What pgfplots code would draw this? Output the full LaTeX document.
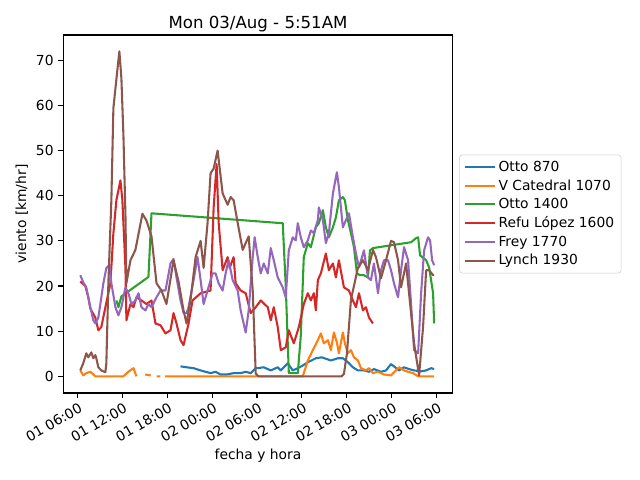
\documentclass[border=0pt]{standalone}
\usepackage{pgfplots}
\pgfplotsset{compat=1.18}
\usepackage{fontspec}
\setmainfont{DejaVu Sans}
\definecolor{c0}{HTML}{1F77B4}
\definecolor{c1}{HTML}{FF7F0E}
\definecolor{c2}{HTML}{2CA02C}
\definecolor{c3}{HTML}{D62728}
\definecolor{c4}{HTML}{9467BD}
\definecolor{c5}{HTML}{8C564B}
\begin{document}
\begin{tikzpicture}
\path[use as bounding box] (-0.633in,-0.87in) rectangle (5.767in,3.93in);
\begin{axis}[
  at={(0,0)}, anchor=south west,
  scale only axis, width=3.894in, height=3.58in,
  xmin=4.13, xmax=56.14, ymin=-3.7, ymax=75.6,
  axis line style={line width=0.8pt},
  tick align=outside, major tick length=3.5pt,
  every tick/.style={black, line width=0.8pt},
  xtick={6,12,18,24,30,36,42,48,54},
  xticklabels={01 06:00,01 12:00,01 18:00,02 00:00,02 06:00,02 12:00,02 18:00,03 00:00,03 06:00},
  ytick={0,10,20,30,40,50,60,70},
  xtick pos=bottom, ytick pos=left,
  /pgf/number format/assume math mode=true,
  tick label style={font=\fontsize{10}{12}\selectfont},
  xticklabel style={rotate=30, anchor=north east, inner sep=1pt, yshift=-2pt},
  xlabel={fecha y hora}, ylabel={viento [km/hr]},
  ylabel style={xshift=0pt, yshift=-1pt},
  label style={font=\fontsize{10}{12}\selectfont},
  title={Mon 03/Aug - 5:51AM},
  title style={font=\fontsize{12}{14}\selectfont, yshift=-7pt},
  unbounded coords=jump,
  every axis plot/.append style={line width=1.5pt, line join=round},
  legend style={at={(1,0.5)}, anchor=west, xshift=4.8pt, draw=black!20, rounded corners=2pt,
    font=\fontsize{10}{12}\selectfont, row sep=0.4pt, inner xsep=3pt, inner ysep=2.5pt},
  legend cell align=left,
  legend image code/.code={\draw[#1, line width=1.5pt] (0pt,0pt) -- (21.6pt,0pt);},
]
\addplot[c0] coordinates {
(19.79,2.2) (20.59,2) (21.53,1.8) (22.47,1.3) (23.13,1) (23.80,0.7) (24.47,1) (25.14,0.4) (25.95,0.4) (26.88,0.7) (27.82,0.7) (28.49,1) (29.16,0.7) (29.83,1.8) (30.10,1.8) (30.90,2) (31.84,1.3) (32.77,2) (33.18,1.3) (34.11,2.9) (34.78,1.3) (35.45,1.8) (36.12,2.4) (36.79,3.1) (37.86,4) (38.66,4.2) (39.87,3.5) (40.81,4) (41.47,4) (42.14,3.1) (42.81,2) (43.48,1.3) (44.29,1.3) (44.96,1) (45.62,1.6) (46.56,1) (47.23,1.3) (47.90,2.7) (48.30,2.2) (48.97,1.3) (49.64,2) (50.31,1.6) (50.98,1.3) (51.92,1.1) (52.59,1.3) (53.26,1.8) (53.66,1.6)
};
\addlegendentry{Otto 870}
\addplot[c1] coordinates {
(6.40,1.3) (6.80,0.2) (7.20,0.7) (7.74,1) (8.41,0) (12.16,0) (12.83,1) (13.50,1.8) (13.90,0) (14.0,nan)
(15.06,0.4) (15.81,0.2) (15.9,nan)
(16.6,0) (17.1,0) (17.3,nan)
(17.74,0) (36.12,0) (36.25,0.7) (36.79,3.5) (37.46,5.8) (38.13,8) (38.53,9.5) (38.93,7.3) (39.47,8) (39.87,5.8) (40.27,9.7) (40.67,7.5) (40.94,5.1) (41.47,9.7) (41.74,7.3) (42.14,5.1) (42.55,5.8) (42.95,4.2) (43.48,3.5) (43.89,1.8) (44.55,1.3) (44.96,1.8) (45.49,0.7) (46.16,1) (46.96,0.4) (47.90,0.2) (48.57,1.3) (48.97,2) (49.64,1.3) (50.18,1) (50.85,0.7) (51.52,0) (53.66,0)
};
\addlegendentry{V Catedral 1070}
\addplot[c2] coordinates {
(11.22,16.8) (11.49,15.3) (11.89,17.7) (15.50,22) (15.91,36.1) (33.44,33.9) (33.84,20) (34.25,0.7) (35.45,0.7) (35.85,9) (36.25,26.4) (36.79,29.5) (37.19,28.6) (37.86,33) (38.26,33.9) (38.80,36.8) (39.20,33) (39.60,30.8) (40.14,33) (40.54,35.2) (40.94,39) (41.47,39.7) (41.74,39) (42.14,34.6) (42.55,31.7) (42.95,28.6) (43.35,22.8) (43.75,22.4) (44.29,22.4) (44.82,21.9) (45.09,27.9) (45.49,28.4) (50.58,29.7) (51.25,30.6) (51.52,30.8) (51.78,26.8) (52.59,25.7) (52.99,24.1) (53.52,18.4) (53.66,11.7)
};
\addlegendentry{Otto 1400}
\addplot[c3] coordinates {
(6.40,21) (7.07,20) (7.47,17.5) (7.74,15) (8.41,13) (8.81,10.2) (9.21,10.9) (9.75,15.3) (10.42,20.6) (10.82,31.7) (11.22,39) (11.76,43.4) (12.02,39) (12.43,24) (12.56,12.4) (13.10,16) (13.50,15.3) (13.90,17.5) (14.57,16.8) (15.24,16) (15.91,16.8) (16.44,11.7) (17.11,11.3) (17.78,9.5) (18.45,10.2) (18.85,14) (19.25,11.7) (19.79,8) (20.19,6.9) (20.86,11.7) (21.39,16.8) (22.47,18.4) (23.80,19) (24.21,37.4) (24.61,47) (24.88,34) (25.41,23.5) (26.08,26.4) (26.35,24) (26.88,26.4) (27.15,20.6) (27.82,19) (28.49,18.4) (29.16,14) (29.83,15.3) (30.50,16.8) (31.44,15.3) (31.84,12.4) (32.24,15.3) (32.77,10.9) (33.18,5.8) (33.84,6.4) (34.25,10.2) (34.92,7.3) (35.59,10.9) (36.25,16) (36.79,18.4) (37.19,16.8) (37.59,18.4) (37.86,14.6) (38.13,21.3) (38.53,22.8) (39.20,27.2) (39.60,23.5) (40.14,25) (40.54,21.9) (40.94,25.7) (41.61,19.7) (42.28,19) (42.81,16.8) (43.22,15.3) (43.62,18.4) (44.15,14.6) (44.55,15.3) (44.96,13) (45.49,11.7)
};
\addlegendentry{Refu López 1600}
\addplot[c4] coordinates {
(6.40,22.4) (6.80,20.8) (7.20,19.7) (7.74,15.3) (8.14,12.4) (8.41,11.7) (8.81,13) (9.21,17.5) (9.48,20.6) (9.88,24) (10.28,24.6) (10.55,20.6) (11.09,15.3) (11.49,13.5) (11.89,15.3) (12.43,19.7) (12.83,18.4) (13.23,16) (13.76,16.8) (14.17,18.4) (14.57,15.3) (15.10,14.6) (15.50,16) (15.91,15.3) (16.58,17.5) (17.11,19) (17.78,19) (18.45,25) (18.85,26) (19.25,21.9) (19.79,16.8) (20.19,14) (20.59,14) (20.86,15.3) (21.53,21.3) (22.06,26.4) (22.47,21.3) (22.87,16) (23.40,19) (24.07,22.8) (24.47,22.8) (24.88,20.6) (25.41,19) (25.81,22.8) (26.21,25.7) (26.75,21.3) (27.42,19) (27.82,14.6) (28.49,9.7) (28.89,14.6) (29.43,26.4) (29.69,30.8) (30.10,26.4) (30.50,22.8) (30.90,25) (31.44,22.8) (31.84,28.4) (32.24,25.7) (32.77,21.9) (33.44,19.7) (33.84,17.5) (34.25,27.9) (34.78,30.8) (35.18,30.1) (35.45,33.9) (35.85,30.8) (36.25,28.6) (36.79,30.1) (37.19,32.3) (37.59,31.7) (38.13,34.6) (38.26,37.4) (38.80,34.6) (39.20,29.5) (39.60,31.7) (40.14,40.5) (40.67,45.2) (40.94,41.9) (41.47,33) (41.88,34.6) (42.28,36.1) (42.81,30.8) (43.22,27.2) (43.62,24.1) (44.29,27.9) (44.82,21.9) (45.22,21.3) (45.62,25) (46.16,18.4) (46.56,23.5) (46.96,25.7) (47.50,25.7) (47.90,23.5) (48.30,20.6) (48.84,17.5) (49.24,23.5) (49.64,28.6) (50.18,25.7) (50.58,16) (50.98,5.8) (51.52,5.1) (51.92,18.4) (52.32,27.9) (52.85,30.8) (53.12,30.1) (53.39,25.7) (53.66,24.6)
};
\addlegendentry{Frey 1770}
\addplot[c5] coordinates {
(6.40,1.3) (6.80,2.9) (7.20,5.1) (7.47,4.2) (7.87,5.3) (8.14,4.0) (8.41,4.7) (8.54,4.0) (8.81,2.0) (9.21,1.3) (9.75,0.9) (9.88,2.9) (10.15,20.6) (10.55,39) (10.82,59.4) (11.36,68) (11.62,72) (11.89,66) (12.16,53.4) (12.43,35.7) (12.56,20.6) (13.10,25.7) (13.76,28) (14.70,36) (15.24,34.5) (15.91,31) (16.58,20.6) (17.24,19) (17.91,16) (18.85,25.7) (19.52,21) (20.19,14.6) (20.59,11.7) (21.13,17) (21.80,26.4) (22.47,30) (22.87,24) (23.40,34) (23.80,45) (24.21,46) (24.74,50) (25.41,40.5) (26.08,38) (26.48,39.7) (26.88,39) (27.42,34) (28.09,28) (28.89,31) (29.43,19) (29.83,0.6) (30.2,0) (41.3,0) (41.61,0.5) (42.01,5) (42.55,17) (43.48,24) (44.15,25.7) (44.82,23.5) (45.49,28) (45.89,26.4) (46.56,21.7) (47.23,25.7) (47.90,30) (48.30,29.7) (48.84,25.7) (49.24,19.7) (49.91,25) (50.31,18.4) (50.98,7.3) (51.65,0.2) (52.18,10.9) (52.59,23.5) (52.99,23.5) (53.52,22.4) (53.66,22.4)
};
\addlegendentry{Lynch 1930}
\end{axis}
\end{tikzpicture}
\end{document}
